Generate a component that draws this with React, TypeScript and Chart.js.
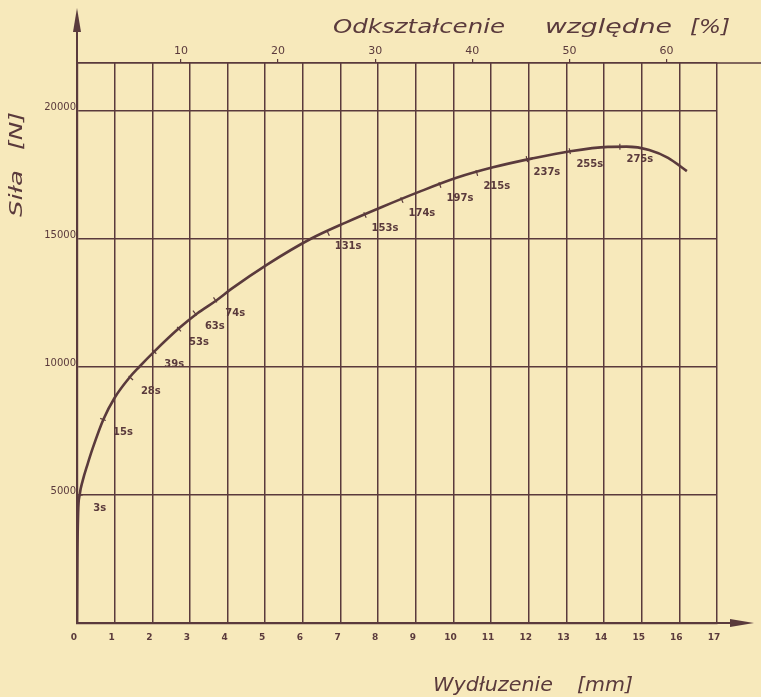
import React, { useEffect, useRef } from "react";
import { Chart, registerables } from "chart.js";

Chart.register(...registerables);

// Curve: elongation [mm] vs force [N]
const elongation = [0, 0.01, 0.03, 0.07, 0.15, 0.28, 0.42, 0.7, 1.0, 1.4, 1.65, 2.05, 2.7, 3.2, 3.7, 4.1, 5.05, 6.2, 7.15, 8.1, 9.1, 10.1, 11.05, 12.1, 13.1, 14.1, 14.6, 15.2, 15.7, 16.2];
const force = [0, 2500, 4300, 5000, 5550, 6200, 6840, 7950, 8800, 9600, 10000, 10600, 11500, 12100, 12600, 13050, 14000, 15000, 15650, 16250, 16850, 17400, 17800, 18150, 18430, 18600, 18610, 18480, 18170, 17650];

// Time marks along the curve
const markTimes = [3, 15, 28, 39, 53, 63, 74, 131, 153, 174, 197, 215, 237, 255, 275];
const markElong = [0.07, 0.69, 1.43, 2.05, 2.71, 3.13, 3.67, 6.67, 7.65, 8.63, 9.64, 10.62, 11.95, 13.09, 14.42];
const markForce = [5000, 7950, 9570, 10600, 11480, 12110, 12620, 15230, 15940, 16520, 17110, 17580, 18120, 18430, 18605];

// Axis ticks
const mmTicks = [0, 1, 2, 3, 4, 5, 6, 7, 8, 9, 10, 11, 12, 13, 14, 15, 16, 17];
const forceTicks = [5000, 10000, 15000, 20000];
const percentTicks = [10, 20, 30, 40, 50, 60];

const INK = "#5a3a3c";
const PAPER = "#f7e9bb";
const HAND = "'DejaVu Sans', sans-serif";

function fitText(c: CanvasRenderingContext2D, text: string, left: number, y: number, width: number) {
  const w = c.measureText(text).width;
  c.save();
  c.translate(left, y);
  c.scale(width / w, 1);
  c.textAlign = "left";
  c.fillText(text, 0, 0);
  c.restore();
}

export default function App() {
  const ref = useRef<HTMLCanvasElement | null>(null);

  useEffect(() => {
    if (!ref.current) return;

    const deco = {
      id: "deco",
      beforeDraw(chart: any) {
        const c = chart.ctx;
        c.save();
        c.fillStyle = PAPER;
        c.fillRect(0, 0, chart.width, chart.height);
        c.restore();
      },
      afterDraw(chart: any) {
        const c = chart.ctx;
        const a = chart.chartArea;
        const xs = chart.scales.x;
        const ys = chart.scales.y;
        c.save();
        c.strokeStyle = INK;
        c.fillStyle = INK;
        // y axis extension + arrow
        c.lineWidth = 2;
        c.beginPath();
        c.moveTo(a.left, a.top);
        c.lineTo(a.left, 22);
        c.stroke();
        c.beginPath();
        c.moveTo(a.left, 8);
        c.lineTo(a.left - 4, 32);
        c.lineTo(a.left + 4, 32);
        c.closePath();
        c.fill();
        // x axis extension + arrow
        c.beginPath();
        c.moveTo(a.right, a.bottom);
        c.lineTo(740, a.bottom);
        c.stroke();
        c.beginPath();
        c.moveTo(754, a.bottom);
        c.lineTo(730, a.bottom - 4);
        c.lineTo(730, a.bottom + 4);
        c.closePath();
        c.fill();
        // top line extension
        c.lineWidth = 1.5;
        c.beginPath();
        c.moveTo(a.right, a.top);
        c.lineTo(chart.width, a.top);
        c.stroke();

        // time labels
        c.font = "bold 10px " + HAND;
        c.textAlign = "center";
        c.textBaseline = "middle";
        for (let i = 0; i < markTimes.length; i++) {
          const px = xs.getPixelForValue(markElong[i]);
          const py = ys.getPixelForValue(markForce[i]);
          c.fillText(markTimes[i] + "s", px + 20, py + 13);
        }

        // titles
        c.textBaseline = "middle";
        c.font = "italic 20px " + HAND;
        fitText(c, "Odkształcenie", 333, 28, 172);
        fitText(c, "względne", 545, 28, 127);
        fitText(c, "[%]", 690, 28, 40);

        c.font = "italic 19px " + HAND;
        fitText(c, "Wydłuzenie", 433, 686, 120);
        fitText(c, "[mm]", 577, 686, 56);

        c.save();
        c.translate(17, 217);
        c.rotate(-Math.PI / 2);
        c.font = "italic 18px " + HAND;
        fitText(c, "Siła", 0, 0, 47);
        fitText(c, "[N]", 67, 0, 38);
        c.restore();
        c.restore();
      },
    };

    const curveData = elongation.map((x, i) => ({ x, y: force[i] }));
    const markData = markElong.map((x, i) => ({ x, y: markForce[i] }));

    const chart = new Chart(ref.current, {
      type: "scatter",
      data: {
        datasets: [
          {
            type: "line",
            data: curveData,
            borderColor: INK,
            borderWidth: 2.6,
            pointRadius: 0,
            cubicInterpolationMode: "monotone",
            fill: false,
            xAxisID: "x",
            yAxisID: "y",
          } as any,
          {
            data: markData,
            pointStyle: "line",
            pointRadius: 3,
            borderColor: INK,
            borderWidth: 1.2,
            rotation: (ctx: any) => {
              const ch = ctx.chart;
              const xs = ch.scales.x;
              const ys = ch.scales.y;
              const i = ctx.dataIndex;
              if (!xs || !ys || i === undefined) return 0;
              const x0 = markElong[i];
              let k = 1;
              while (k < elongation.length - 1 && elongation[k] < x0) k++;
              const dx = xs.getPixelForValue(elongation[k]) - xs.getPixelForValue(elongation[k - 1]);
              const dy = ys.getPixelForValue(force[k]) - ys.getPixelForValue(force[k - 1]);
              return (Math.atan2(dy, dx) * 180) / Math.PI + 90;
            },
            xAxisID: "x",
            yAxisID: "y",
          } as any,
        ],
      },
      options: {
        animation: false,
        responsive: true,
        maintainAspectRatio: false,
        layout: { padding: { left: 0, right: 44, top: 0, bottom: 0 } },
        plugins: { legend: { display: false }, tooltip: { enabled: false } },
        scales: {
          x: {
            type: "linear",
            position: "bottom",
            min: 0,
            max: 17,
            afterBuildTicks: (s: any) => {
              s.ticks = mmTicks.map((v) => ({ value: v }));
            },
            afterFit: (s: any) => {
              s.height = 74;
            },
            grid: { color: INK, lineWidth: 1.5, drawTicks: false },
            border: { color: INK, width: 2.2 },
            ticks: {
              color: INK,
              font: { family: HAND, size: 9, weight: "bold" },
              padding: 9,
              labelOffset: -3,
              autoSkip: false,
              maxRotation: 0,
            },
          },
          x2: {
            type: "linear",
            position: "top",
            min: -0.7,
            max: 65.2,
            afterBuildTicks: (s: any) => {
              s.ticks = percentTicks.map((v) => ({ value: v }));
            },
            afterFit: (s: any) => {
              s.height = 63;
            },
            grid: { drawOnChartArea: false, drawTicks: true, tickLength: 4, color: INK, lineWidth: 1.2 },
            border: { color: INK, width: 1.8 },
            ticks: {
              color: INK,
              font: { family: HAND, size: 11 },
              padding: 1,
              autoSkip: false,
              maxRotation: 0,
            },
          },
          y: {
            type: "linear",
            position: "left",
            min: 0,
            max: 21875,
            afterBuildTicks: (s: any) => {
              s.ticks = [0, ...forceTicks].map((v) => ({ value: v }));
            },
            afterFit: (s: any) => {
              s.width = 77;
            },
            grid: { color: INK, lineWidth: 1.5, drawTicks: false },
            border: { color: INK, width: 2.2 },
            ticks: {
              color: INK,
              font: { family: HAND, size: 10 },
              padding: 1,
              labelOffset: -4,
              callback: (v: any) => (v === 0 ? "" : String(v)),
            },
          },
        },
      } as any,
      plugins: [deco],
    });

    return () => chart.destroy();
  }, []);

  return (
    <div style={{ position: "absolute", left: 0, top: 0, width: 761, height: 697, background: PAPER }}>
      <canvas ref={ref} />
    </div>
  );
}
